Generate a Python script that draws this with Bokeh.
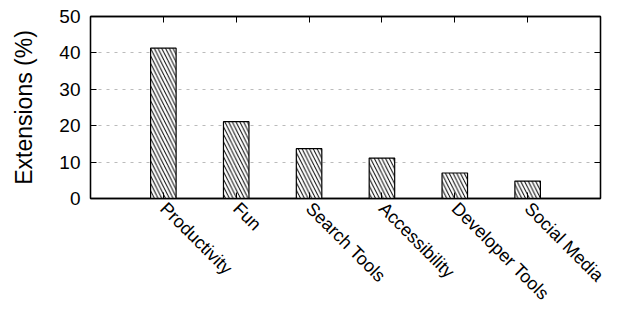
from bokeh.plotting import figure
from bokeh.models import (FactorRange, Range1d, LinearAxis, CategoricalAxis, FixedTicker,
                          CustomLabelingPolicy)
from bokeh.embed import file_html
from bokeh.resources import INLINE

categories = ["Productivity", "Fun", "Search Tools", "Accessibility", "Developer Tools", "Social Media"]
values = [41.3, 21.1, 13.7, 11.1, 7.0, 4.8]
y_ticks = [0, 10, 20, 30, 40, 50]

FONT = "Liberation Sans"

p = figure(width=620, height=313, output_backend="svg", toolbar_location=None,
           x_range=FactorRange(factors=categories, range_padding=0.5, range_padding_units="absolute"),
           y_range=Range1d(0, 50),
           min_border_left=90, min_border_right=20, min_border_top=16, min_border_bottom=113)

p.vbar(x=categories, top=values, width=0.35, fill_color="white", line_color="black", line_width=1.2,
       hatch_pattern="\\", hatch_color="black", hatch_scale=7.5, hatch_weight=1)

p.outline_line_color = "black"
p.outline_line_width = 1.3
p.xgrid.grid_line_color = None
p.ygrid.ticker = FixedTicker(ticks=[10, 20, 30, 40])
p.ygrid.grid_line_color = "#bbbbbb"
p.ygrid.grid_line_dash = "3 5"
p.ygrid.grid_line_width = 1

ya = p.yaxis[0]
ya.ticker = FixedTicker(ticks=y_ticks)
ya.axis_label = "Extensions (%)"
ya.axis_label_text_font = FONT
ya.axis_label_text_font_size = "23px"
ya.axis_label_text_font_style = "normal"
ya.axis_label_text_color = "black"
ya.axis_label_standoff = 19
ya.major_label_text_font = FONT
ya.major_label_text_font_size = "19px"
ya.major_label_text_color = "black"
ya.major_label_standoff = 10
ya.major_tick_in = 6
ya.major_tick_out = 0
ya.minor_tick_line_color = None
ya.axis_line_color = "black"
ya.axis_line_width = 1.3

xa = p.xaxis[0]
xa.major_label_orientation = -0.785398
xa.major_label_text_font = FONT
xa.major_label_text_font_size = "18px"
xa.major_label_text_color = "black"
xa.major_label_standoff = 7
xa.major_tick_in = 6
xa.major_tick_out = 0
xa.axis_line_color = "black"
xa.axis_line_width = 1.3

hide_all = "const arr = [...indices]; for (const i of arr) indices.unset(i);"

ra = LinearAxis(ticker=FixedTicker(ticks=y_ticks), major_label_text_font_size="1px",
                major_label_policy=CustomLabelingPolicy(code=hide_all),
                major_tick_in=6, major_tick_out=0, minor_tick_line_color=None,
                axis_line_color="black", axis_line_width=1.3, major_label_standoff=0)
p.add_layout(ra, "right")
ta = CategoricalAxis(major_label_text_font_size="1px",
                     major_label_policy=CustomLabelingPolicy(code=hide_all),
                     major_tick_in=6, major_tick_out=0,
                     axis_line_color="black", axis_line_width=1.3, major_label_standoff=0)
p.add_layout(ta, "above")

open("out.html", "w").write(file_html(p, INLINE))
